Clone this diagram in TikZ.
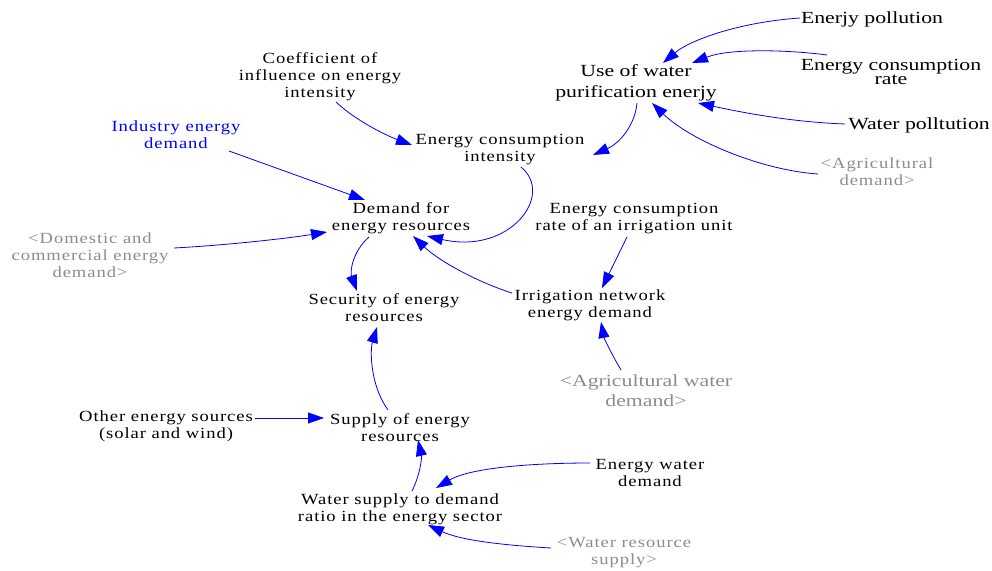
\documentclass[tikz,border=0pt]{standalone}
\usepackage{fontspec}
\setmainfont{Liberation Serif}
\newfontfamily\vnfont[FakeStretch=1.2, LetterSpace=6]{Liberation Serif}
\newfontfamily\vbfont[FakeStretch=1.28]{Liberation Serif}
\usetikzlibrary{arrows.meta}
\definecolor{linkblue}{RGB}{0,0,255}
\definecolor{shadowgray}{RGB}{140,140,140}
\tikzset{
  var/.style={align=center, inner sep=0pt, text=black, font=\vnfont\fontsize{15.5}{17}\selectfont},
  bigvar/.style={var, font=\vbfont\fontsize{17}{21}\selectfont},
  shadow/.style={var, text=shadowgray},
  link/.style={draw=linkblue, line width=0.8pt, -{Triangle[length=16pt,width=11pt]}, fill=none},
}
\begin{document}
\begin{tikzpicture}[x=1pt,y=-1pt]
\useasboundingbox (0,0) rectangle (992,570);
% nodes
\node[bigvar] (ep) at (872,19) {Enerjy pollution};
\node[bigvar, font=\vbfont\fontsize{17}{14}\selectfont] (ecr) at (891,72) {Energy consumption\\rate};
\node[bigvar] (use) at (636,83) {Use of water\\purification enerjy};
\node[bigvar] (wp) at (919,125) {Water polltution};
\node[shadow] (agd) at (877,172) {<Agricultural\\demand>};
\node[var] (coef) at (320,77) {Coefficient of\\influence on energy\\intensity};
\node[var] (eci) at (500,150) {Energy consumption\\intensity};
\node[var, text=linkblue] (ind) at (176,135) {Industry energy\\demand};
\node[var] (dem) at (401,218) {Demand for\\energy resources};
\node[shadow] (dom) at (90,255) {<Domestic and\\commercial energy\\demand>};
\node[var] (ecri) at (634,219) {Energy consumption\\rate of an irrigation unit};
\node[var] (sec) at (384,308) {Security of energy\\resources};
\node[var] (irr) at (590,305) {Irrigation network\\energy demand};
\node[bigvar, text=shadowgray, font=\vbfont\fontsize{17}{20}\selectfont] (awd) at (646,391) {<Agricultural water\\demand>};
\node[var] (oth) at (166,426) {Other energy sources\\(solar and wind)};
\node[var] (sup) at (400,428) {Supply of energy\\resources};
\node[var] (ewd) at (650,473) {Energy water\\demand};
\node[var] (wsr) at (400,509) {Water supply to demand\\ratio in the energy sector};
\node[shadow] (wrs) at (624,553) {<Water resource\\supply>};
% links
\draw[link] ([shift={(-72,-1)}]ep.center) .. controls (740,22) and (690,40) .. ([shift={(27,-20)}]use.center);
\draw[link] ([shift={(-64,-17)}]ecr.center) .. controls (790,50) and (730,48) .. ([shift={(56,-20)}]use.center);
\draw[link] ([shift={(-74,-1)}]wp.center) .. controls (790,122) and (740,112) .. ([shift={(62,20)}]use.center);
\draw[link] ([shift={(-59,2)}]agd.center) .. controls (760,170) and (690,140) .. ([shift={(16,20)}]use.center);
\draw[link] ([shift={(1,20)}]use.center) .. controls (635,125) and (620,143) .. ([shift={(93,5)}]eci.center);
\draw[link] ([shift={(16,25)}]coef.center) .. controls (355,120) and (385,135) .. ([shift={(-88,-5)}]eci.center);
\draw[link] ([shift={(53,16)}]ind.center) -- ([shift={(-36,-18)}]dem.center);
\draw[link] ([shift={(84,-7)}]dom.center) .. controls (230,245) and (290,238) .. ([shift={(-74,14)}]dem.center);
\draw[link] ([shift={(21,17)}]eci.center) .. controls (555,195) and (510,255) .. ([shift={(26,18)}]dem.center);
\draw[link] ([shift={(-78,-12)}]irr.center) .. controls (480,283) and (440,262) .. ([shift={(12,18)}]dem.center);
\draw[link] ([shift={(-32,19)}]dem.center) .. controls (352,252) and (350,272) .. ([shift={(-27,-17)}]sec.center);
\draw[link] ([shift={(-12,-18)}]sup.center) .. controls (370,385) and (370,350) .. ([shift={(-7,19)}]sec.center);
\draw[link] ([shift={(89,-8)}]oth.center) -- ([shift={(-76,-10)}]sup.center);
\draw[link] ([shift={(12,-18)}]wsr.center) .. controls (420,475) and (422,458) .. ([shift={(18,12)}]sup.center);
\draw[link] ([shift={(-60,-10)}]ewd.center) .. controls (530,463) and (470,468) .. ([shift={(36,-21)}]wsr.center);
\draw[link] ([shift={(-73,-5)}]wrs.center) .. controls (500,545) and (460,540) .. ([shift={(28,16)}]wsr.center);
\draw[link] ([shift={(-25,-21)}]awd.center) .. controls (612,355) and (604,338) .. ([shift={(11,17)}]irr.center);
\draw[link] ([shift={(-7,18)}]ecri.center) -- ([shift={(12,-17)}]irr.center);
\end{tikzpicture}
\end{document}
